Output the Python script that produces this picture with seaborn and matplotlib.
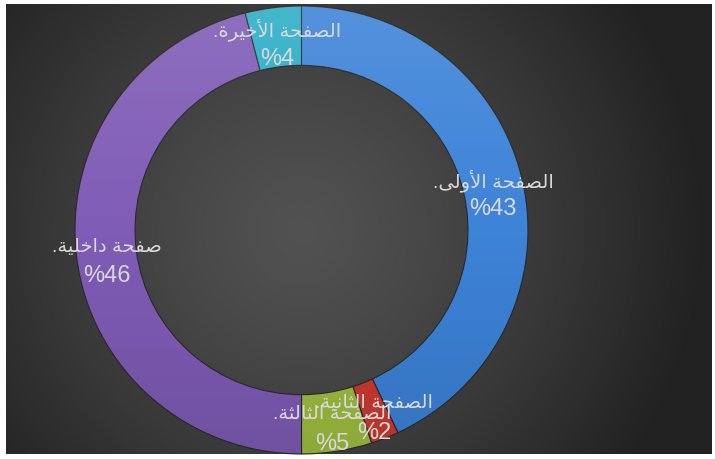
import numpy as np
import matplotlib
matplotlib.use("Agg")
import matplotlib.pyplot as plt
from matplotlib.patches import Wedge
import seaborn as sns

# data, clockwise from the top
pages = ["الصفحة الأولى.", "الصفحة الثانية.", "الصفحة الثالثة.", "صفحة داخلية.", "الصفحة الأخيرة."]
shares = [43, 2, 5, 46, 4]
colors = ["#3d83d8", "#cf3a32", "#a0c040", "#7f5cb6", "#2badc6"]

# matplotlib has no arabic shaping, so do a small one by hand
FORMS = {
    'ا': ('\uFE8D', '\uFE8E'),
    'أ': ('\uFE83', '\uFE84'),
    'د': ('\uFEA9', '\uFEAA'),
    'ر': ('\uFEAD', '\uFEAE'),
    'و': ('\uFEED', '\uFEEE'),
    'ة': ('\uFE93', '\uFE94'),
    'ى': ('\uFEEF', '\uFEF0'),
    'ل': ('\uFEDD', '\uFEDE', '\uFEDF', '\uFEE0'),
    'ص': ('\uFEB9', '\uFEBA', '\uFEBB', '\uFEBC'),
    'ف': ('\uFED1', '\uFED2', '\uFED3', '\uFED4'),
    'ح': ('\uFEA1', '\uFEA2', '\uFEA3', '\uFEA4'),
    'خ': ('\uFEA5', '\uFEA6', '\uFEA7', '\uFEA8'),
    'ث': ('\uFE99', '\uFE9A', '\uFE9B', '\uFE9C'),
    'ن': ('\uFEE5', '\uFEE6', '\uFEE7', '\uFEE8'),
    'ي': ('\uFEF1', '\uFEF2', '\uFEF3', '\uFEF4'),
}
LAM_ALEF = {'ا': ('\uFEFB', '\uFEFC'), 'أ': ('\uFEF7', '\uFEF8')}


def shape(text):
    toks = []
    i = 0
    while i < len(text):
        c = text[i]
        if c == 'ل' and i + 1 < len(text) and text[i + 1] in LAM_ALEF:
            toks.append(('LA', text[i + 1]))
            i += 2
        else:
            toks.append((c, None))
            i += 1

    def joins_next(t):
        return t[0] in FORMS and len(FORMS[t[0]]) == 4

    def is_letter(t):
        return t[0] == 'LA' or t[0] in FORMS

    out = []
    for k, (c, a) in enumerate(toks):
        prev = k > 0 and joins_next(toks[k - 1])
        nxt = k + 1 < len(toks) and is_letter(toks[k + 1])
        if c == 'LA':
            out.append(LAM_ALEF[a][1 if prev else 0])
        elif c in FORMS:
            f = FORMS[c]
            if len(f) == 2:
                out.append(f[1] if prev else f[0])
            else:
                out.append(f[{(False, False): 0, (True, False): 1,
                              (False, True): 2, (True, True): 3}[(prev, nxt)]])
        else:
            out.append(c)
    return ''.join(out)[::-1]


sns.set_theme(style="white")
plt.rcParams['font.family'] = ['Liberation Sans', 'DejaVu Sans']

W, H = 715, 460
fig = plt.figure(figsize=(W / 100, H / 100), dpi=100)
fig.patch.set_facecolor("white")

# dark radial backdrop
bg = fig.add_axes([6 / W, 5 / H, 706 / W, 450 / H])
bg.set_axis_off()
yy, xx = np.mgrid[0:450, 0:706]
d = np.hypot((xx - 295) / 420, (yy - 226) / 420)
g = np.clip(0.32 - 0.2 * d ** 1.3, 0.13, 1)
bg.imshow(np.dstack([g, g, g]), aspect="auto", interpolation="bilinear")

cx, cy, rx, ry = 301.5, 231, 226.5, 224
ax = fig.add_axes([(cx - rx) / W, (H - cy - ry) / H, 2 * rx / W, 2 * ry / H])
ax.set_axis_off()
ax.patch.set_alpha(0)

ring = 0.265
wedges, _ = ax.pie(shares, colors=sns.color_palette(colors), startangle=90, counterclock=False,
                   radius=1, wedgeprops=dict(width=ring, edgecolor="#2a2a2a", linewidth=0.8))

# soft top-light / bottom-dark shading on the ring
t = np.linspace(0, 1, 256)[:, None]
shade = np.zeros((256, 2, 4))
shade[..., :3] = np.where(t < 0.5, 1.0, 0.0)[..., None]
shade[..., 3] = np.abs(t - 0.5) * 0.24
clip = Wedge((0, 0), 1, 0, 360, width=ring, transform=ax.transData)
im = ax.imshow(shade, extent=[-1, 1, -1, 1], aspect="auto", zorder=3)
im.set_clip_path(clip)
ax.set_xlim(-1, 1)
ax.set_ylim(-1, 1)

# labels on the ring midline: name above, percentage below (RTL order)
mid = 1 - ring / 2
acc = 0
for name, v in zip(pages, shares):
    ang = np.deg2rad(90 - 360 * (acc + v / 2) / 100)
    acc += v
    x, y = mid * np.cos(ang), mid * np.sin(ang)
    ax.annotate(shape(name), (x, y), xytext=(0, 6), textcoords="offset points",
                ha="center", va="center", color="#d9d9d9", fontsize=14, zorder=5)
    ax.annotate(f"%{v}", (x, y), xytext=(0, -15), textcoords="offset points",
                ha="center", va="center", color="#d9d9d9", fontsize=17, zorder=5)

fig.savefig("out.png", dpi=100)
